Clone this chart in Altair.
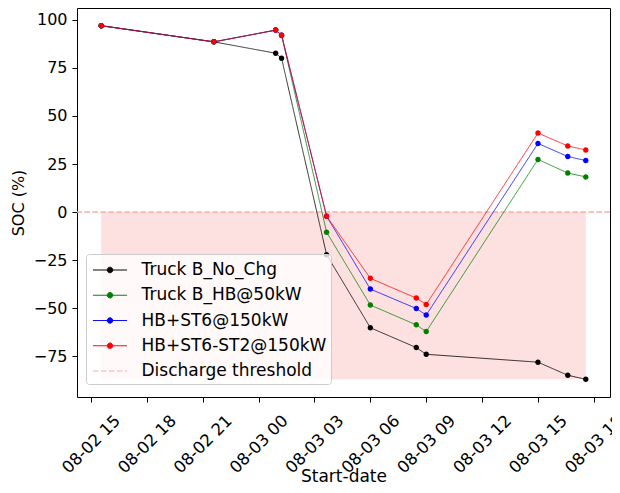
import altair as alt
import pandas as pd

# ---- data ----
times = [
    "2021-08-02T15:33:00", "2021-08-02T21:36:00", "2021-08-03T00:55:00",
    "2021-08-03T01:14:00", "2021-08-03T03:39:00", "2021-08-03T06:00:00",
    "2021-08-03T08:28:00", "2021-08-03T09:00:00", "2021-08-03T15:00:00",
    "2021-08-03T16:36:00", "2021-08-03T17:34:00",
]
series_names = ["Truck B_No_Chg", "Truck B_HB@50kW", "HB+ST6@150kW", "HB+ST6-ST2@150kW"]
soc_no_chg = [96.9, 88.5, 82.6, 80.0, -22.1, -60.1, -70.4, -73.9, -78.0, -84.8, -86.9]
soc_hb50 = [96.9, 88.5, 94.6, 92.0, -10.4, -48.3, -58.6, -62.1, 27.4, 20.3, 18.3]
soc_st6 = [96.9, 88.5, 94.6, 92.0, -2.1, -40.0, -50.1, -53.5, 35.7, 28.9, 26.8]
soc_st6_st2 = [96.9, 88.5, 94.6, 92.0, -2.1, -34.4, -44.7, -48.0, 41.1, 34.4, 32.3]
series_colors = ["black", "green", "blue", "red"]
threshold_label = "Discharge threshold"
threshold_value = 0
threshold_color = "#ffa8a8"
shade_color = "#fde0e0"

tick_hours = [(2, 15), (2, 18), (2, 21), (3, 0), (3, 3), (3, 6), (3, 9), (3, 12), (3, 15), (3, 18)]

rows = []
for name, vals in zip(series_names, [soc_no_chg, soc_hb50, soc_st6, soc_st6_st2]):
    for t, v in zip(times, vals):
        rows.append({"series": name, "time": t, "soc": v})
df = pd.DataFrame(rows)

shade = pd.DataFrame({
    "time": [times[0], times[-1]],
    "soc": [threshold_value, threshold_value],
    "low": [min(soc_no_chg), min(soc_no_chg)],
})
thr = pd.DataFrame({"series": [threshold_label], "soc": [threshold_value]})

all_names = series_names + [threshold_label]
dot_path = "M-1.55,0H1.55M-0.25,0A0.25,0.25,0,1,1,0.25,0A0.25,0.25,0,1,1,-0.25,0Z"
dash_path = "M-1.55,0H1.55"
SYM = 484

# ---- encodings ----
x_enc = alt.X(
    "time:T",
    title="Start-date",
    scale=alt.Scale(domain=[alt.DateTime(year=2021, month=8, date=2, hours=14, minutes=15),
                            alt.DateTime(year=2021, month=8, date=3, hours=18, minutes=52)]),
    axis=alt.Axis(
        values=[alt.DateTime(year=2021, month=8, date=d, hours=h) for d, h in tick_hours],
        format="%m-%d %H", labelAngle=-45, labelAlign="center", labelBaseline="middle",
        labelPadding=42, tickSize=5, grid=False, domain=False,
        labelFontSize=16.5, titleFontSize=17, titleY=84, titleBaseline="alphabetic",
        labelFlush=False, labelOverlap=False,
    ),
)
y_scale = alt.Scale(domain=[-96.1, 106.1], nice=False, zero=False)
y_axis = alt.Axis(
    values=[-75, -50, -25, 0, 25, 50, 75, 100],
    labelExpr="datum.value < 0 ? '\u2212' + abs(datum.value) : '' + datum.value",
    tickSize=5, labelPadding=5, grid=False, domain=False,
    labelFontSize=16, titleFontSize=16, titlePadding=7,
)
y_enc = alt.Y("soc:Q", scale=y_scale, axis=y_axis, title="SOC (%)")

legend = alt.Legend(
    title=None, orient="none", legendX=9, legendY=246,
    fillColor="rgba(255,255,255,0.8)", strokeColor="#cccccc", cornerRadius=3,
    padding=4.5, symbolSize=SYM, symbolOffset=8, labelOffset=20,
    labelFontSize=17, rowPadding=5.25, labelLimit=300, symbolStrokeWidth=1,
    symbolOpacity=1,
)
color_enc = alt.Color(
    "series:N",
    scale=alt.Scale(domain=all_names, range=series_colors + [threshold_color]),
    legend=legend,
)
dash_enc = alt.StrokeDash(
    "series:N",
    scale=alt.Scale(domain=all_names, range=[[1, 0]] * 4 + [[5.5, 2.5]]),
    legend=legend,
)
shape_enc = alt.Shape(
    "series:N",
    scale=alt.Scale(domain=all_names, range=[dot_path] * 4 + [dash_path]),
    legend=legend,
)

area = alt.Chart(shade).mark_area(color=shade_color, opacity=1).encode(
    x=x_enc, y=y_enc, y2="low:Q",
)
rule = alt.Chart(thr).mark_rule(strokeWidth=1.5).encode(
    y=y_enc, color=color_enc, strokeDash=dash_enc,
)
lines = alt.Chart(df).mark_line(strokeWidth=0.8).encode(
    x=x_enc, y=y_enc, color=color_enc, strokeDash=dash_enc,
)
points = alt.Chart(df).mark_point(filled=True, size=SYM, opacity=1).encode(
    x=x_enc, y=y_enc, color=color_enc, shape=shape_enc,
)

chart = alt.layer(area, rule, lines, points).properties(
    width=533, height=389,
    autosize=alt.AutoSizeParams(type="none"),
    padding={"left": 69, "top": 0, "right": 2, "bottom": 88},
).configure(
    font="DejaVu Sans",
).configure_view(
    stroke="black", strokeWidth=1,
).configure_axis(
    labelColor="black", titleColor="black", tickColor="black", tickWidth=1,
    labelFont="DejaVu Sans", titleFont="DejaVu Sans", titleFontWeight="normal",
).configure_legend(
    labelFont="DejaVu Sans", labelColor="black",
)

chart.save("out.html", embed_options={"renderer": "svg", "actions": False})
